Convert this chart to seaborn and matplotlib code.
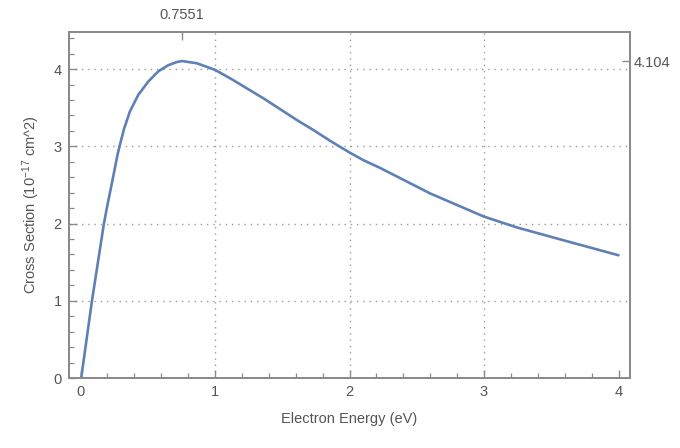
import matplotlib
matplotlib.use("Agg")
import matplotlib.pyplot as plt
import seaborn as sns
import pandas as pd

energy_ev = [0.005, 0.085, 0.174, 0.20, 0.226, 0.25, 0.275, 0.29, 0.325, 0.367,
             0.429, 0.503, 0.578, 0.652, 0.714, 0.7551, 0.865, 1.0, 1.113, 1.237,
             1.361, 1.485, 1.609, 1.732, 1.857, 2.0, 2.104, 2.228, 2.352, 2.476,
             2.6, 3.0, 3.245, 3.62, 4.0]
cross_section = [0.0, 1.0, 2.0, 2.24, 2.46, 2.67, 2.89, 3.0, 3.234, 3.45,
                 3.665, 3.837, 3.97, 4.05, 4.09, 4.104, 4.075, 3.99, 3.88, 3.75,
                 3.62, 3.48, 3.34, 3.21, 3.07, 2.92, 2.82, 2.72, 2.61, 2.50,
                 2.39, 2.09, 1.95, 1.77, 1.59]

peak_energy = 0.7551
peak_value = 4.104

x_ticks = [0, 1, 2, 3, 4]
y_ticks = [0, 1, 2, 3, 4]

df = pd.DataFrame({"E": energy_ev, "sigma": cross_section})

sns.set_style("ticks")
plt.rcParams["font.family"] = ["Liberation Sans", "DejaVu Sans"]
plt.rcParams["mathtext.default"] = "regular"

frame_col = "#8a8a8a"
text_col = "#555555"

fig = plt.figure(figsize=(6.8, 4.48), dpi=100)
ax = fig.add_axes([0.101, 0.156, 0.825, 0.7726])

# dotted grid
for gx in [1, 2, 3]:
    ax.axvline(gx, color="#9a9a9a", lw=1.0, ls=(0, (1, 3.5)), zorder=0)
for gy in [1, 2, 3, 4]:
    ax.axhline(gy, color="#9a9a9a", lw=1.0, ls=(0, (1, 3.5)), zorder=0)

sns.lineplot(data=df, x="E", y="sigma", ax=ax, color="#5E81B5", lw=1.9,
             solid_joinstyle="round", solid_capstyle="round")

ax.set_xlim(-0.088, 4.083)
ax.set_ylim(0, 4.48)
ax.set_xticks(x_ticks)
ax.set_yticks(y_ticks)
ax.set_xticks([v / 10 for v in range(2, 41, 2) if v % 10 != 0], minor=True)
ax.set_yticks([v / 10 for v in range(2, 45, 2) if v % 10 != 0], minor=True)

for sp in ax.spines.values():
    sp.set_color(frame_col)
    sp.set_linewidth(1.1)

ax.tick_params(which="major", direction="in", length=6, width=1.0,
               color=frame_col, labelcolor=text_col, labelsize=10.5, pad=5)
ax.tick_params(which="minor", direction="in", length=3.5, width=0.9,
               color=frame_col)

ax.set_xlabel("Electron Energy (eV)", color=text_col, fontsize=10.5, labelpad=9)
ax.set_ylabel("Cross Section (10$^{-17}$ cm^2)", color=text_col,
              fontsize=10.5, labelpad=8)

# peak markers on top and right frame
top = ax.twiny()
top.set_xlim(ax.get_xlim())
top.set_xticks([peak_energy])
top.set_xticklabels([f"{peak_energy:.4f}"])
top.tick_params(direction="in", length=6, width=1.0, color=frame_col,
                labelcolor=text_col, labelsize=10.5, pad=7)
right = ax.twinx()
right.set_ylim(ax.get_ylim())
right.set_yticks([peak_value])
right.set_yticklabels([f"{peak_value:.3f}"])
right.tick_params(direction="in", length=6, width=1.0, color=frame_col,
                  labelcolor=text_col, labelsize=10.5, pad=3)
for a in (top, right):
    for sp in a.spines.values():
        sp.set_color(frame_col)
        sp.set_linewidth(1.1)

fig.savefig("out.png", dpi=100)
